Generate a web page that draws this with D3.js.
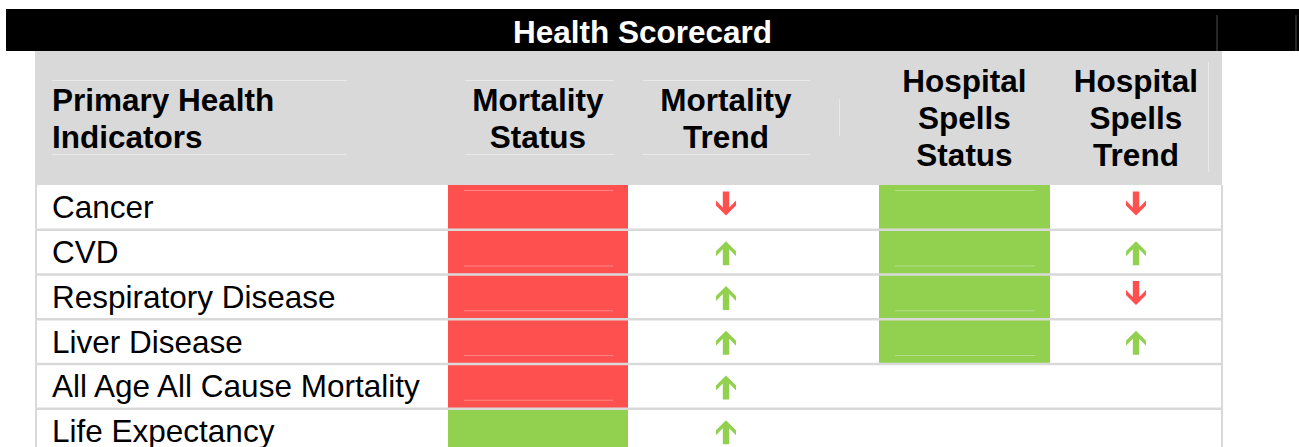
<!DOCTYPE html>
<html>
<head>
<meta charset="utf-8">
<script src="https://cdn.jsdelivr.net/npm/d3@7"></script>
<style>
  html, body { margin: 0; padding: 0; background: #fff; }
  svg { display: block; font-family: "Liberation Sans", Arial, sans-serif; }
</style>
</head>
<body>
<svg id="chart" width="1299" height="447"></svg>
<script>
// ---- data ----
const title = "Health Scorecard";
const headers = [
  ["Primary Health", "Indicators"],
  ["Mortality", "Status"],
  ["Mortality", "Trend"],
  ["Hospital", "Spells", "Status"],
  ["Hospital", "Spells", "Trend"]
];
const indicators = ["Cancer", "CVD", "Respiratory Disease", "Liver Disease", "All Age All Cause Mortality", "Life Expectancy"];
const mortalityStatus = ["red", "red", "red", "red", "red", "green"];
const mortalityTrend = ["down", "up", "up", "up", "up", "up"];
const spellsStatus = ["green", "green", "green", "green", null, null];
const spellsTrend = ["down", "up", "down", "up", null, null];

// ---- styles ----
const RED = "#ff5050", GREEN = "#92d050", GRAY = "#d9d9d9";
const statusColor = { red: RED, green: GREEN };
const statusLine = { red: "#ff8585", green: "#b3df86" };
const FS = 31.5;

const svg = d3.select("#chart");

// column layout (left, right, centre, anchor)
const cols = [
  { x0: 37, x1: 448, tx: 52, anchor: "start" },
  { x0: 448, x1: 628, tx: 538, anchor: "middle" },
  { x0: 628, x1: 824, tx: 726, anchor: "middle" },
  { x0: 879, x1: 1050, tx: 964.5, anchor: "middle" },
  { x0: 1050, x1: 1222, tx: 1136, anchor: "middle" }
];

// row scale
const y = d3.scaleBand()
  .domain(indicators)
  .range([185, 185 + 44.75 * indicators.length])
  .paddingInner(0).paddingOuter(0);

// ---- title bar ----
svg.append("rect").attr("x", 6).attr("y", 9).attr("width", 1293).attr("height", 42).attr("fill", "#000");
svg.append("text").attr("x", 642.5).attr("y", 43).attr("text-anchor", "middle")
  .attr("fill", "#fff").attr("font-weight", "bold").attr("font-size", FS).text(title);
[1217, 1296].forEach(x => svg.append("line").attr("x1", x).attr("x2", x).attr("y1", 15).attr("y2", 51)
  .attr("stroke", "#4a4a4a").attr("stroke-width", 1));

// ---- header ----
svg.append("rect").attr("x", 35).attr("y", 51).attr("width", 1187).attr("height", 134).attr("fill", GRAY);
// faint text-box borders
const faint = "#e9e9e9";
[[52, 347], [465, 614], [643, 810]].forEach(([a, b]) => {
  [80, 154].forEach(yy => svg.append("line").attr("x1", a).attr("x2", b).attr("y1", yy + 0.5).attr("y2", yy + 0.5)
    .attr("stroke", faint).attr("stroke-width", 1));
});
svg.append("line").attr("x1", 839.5).attr("x2", 839.5).attr("y1", 99).attr("y2", 136).attr("stroke", faint);
svg.append("line").attr("x1", 1208.5).attr("x2", 1208.5).attr("y1", 62).attr("y2", 172).attr("stroke", faint);

headers.forEach((lines, i) => {
  const c = cols[i];
  const t = svg.append("text").attr("text-anchor", c.anchor).attr("font-weight", "bold")
    .attr("font-size", FS).attr("fill", "#000");
  const first = 129 - (lines.length - 1) / 2 * 37;
  lines.forEach((ln, j) => t.append("tspan").attr("x", c.tx).attr("y", first + j * 37).text(ln));
});

// ---- body rows ----
const bodyTop = y.range()[0], bodyBottom = y.range()[1];
svg.append("rect").attr("x", 37).attr("y", bodyTop).attr("width", 1185).attr("height", bodyBottom - bodyTop).attr("fill", "#fff");

const rows = svg.append("g").selectAll("g").data(indicators).join("g");

// indicator names
rows.append("text").attr("x", cols[0].tx).attr("y", d => y(d) + y.bandwidth() / 2 + 11)
  .attr("font-size", FS).attr("fill", "#000").text(d => d);

// status cells
function statusCells(arr, col) {
  const g = svg.append("g");
  g.selectAll("rect").data(indicators.filter((d, i) => arr[i]))
    .join("rect")
    .attr("x", col.x0).attr("width", col.x1 - col.x0)
    .attr("y", d => y(d)).attr("height", y.bandwidth())
    .attr("fill", d => statusColor[arr[indicators.indexOf(d)]]);
  // faint inner lines (source artefact)
  g.selectAll("line").data(indicators.filter((d, i) => arr[i] && !(arr[i] === "green" && col === cols[1])))
    .join("line")
    .attr("x1", col.x0 + 16).attr("x2", col.x1 - 15)
    .attr("y1", d => (indicators.indexOf(d) === 0 ? y(d) + 5.5 : y(d) + y.bandwidth() - 8.5))
    .attr("y2", d => (indicators.indexOf(d) === 0 ? y(d) + 5.5 : y(d) + y.bandwidth() - 8.5))
    .attr("stroke", d => statusLine[arr[indicators.indexOf(d)]]).attr("stroke-width", 1);
}
statusCells(mortalityStatus, cols[1]);
statusCells(spellsStatus, cols[3]);

// trend arrows
const upArrow = "M0,0 L10,10 L10,15 L3.2,8 L3.2,24 L-3.2,24 L-3.2,8 L-10,15 L-10,10 Z";
function trendArrows(arr, col) {
  svg.append("g").selectAll("path").data(indicators.filter((d, i) => arr[i]))
    .join("path")
    .attr("d", upArrow)
    .attr("fill", d => arr[indicators.indexOf(d)] === "up" ? GREEN : RED)
    .attr("transform", d => {
      const dir = arr[indicators.indexOf(d)];
      const cy = y(d) + y.bandwidth() / 2;
      return dir === "up"
        ? `translate(${col.tx},${cy - 11})`
        : `translate(${col.tx},${cy + 8}) scale(1,-1)`;
    });
}
trendArrows(mortalityTrend, cols[2]);
trendArrows(spellsTrend, cols[4]);

// row separators
svg.append("g").selectAll("line").data(indicators.slice(1))
  .join("line")
  .attr("x1", 37).attr("x2", 1222)
  .attr("y1", d => y(d)).attr("y2", d => y(d))
  .attr("stroke", GRAY).attr("stroke-width", 2.5);

// outer verticals
svg.append("line").attr("x1", 36).attr("x2", 36).attr("y1", bodyTop).attr("y2", bodyBottom).attr("stroke", GRAY).attr("stroke-width", 2);
svg.append("line").attr("x1", 1222).attr("x2", 1222).attr("y1", bodyTop).attr("y2", bodyBottom).attr("stroke", GRAY).attr("stroke-width", 2);
</script>
</body>
</html>
